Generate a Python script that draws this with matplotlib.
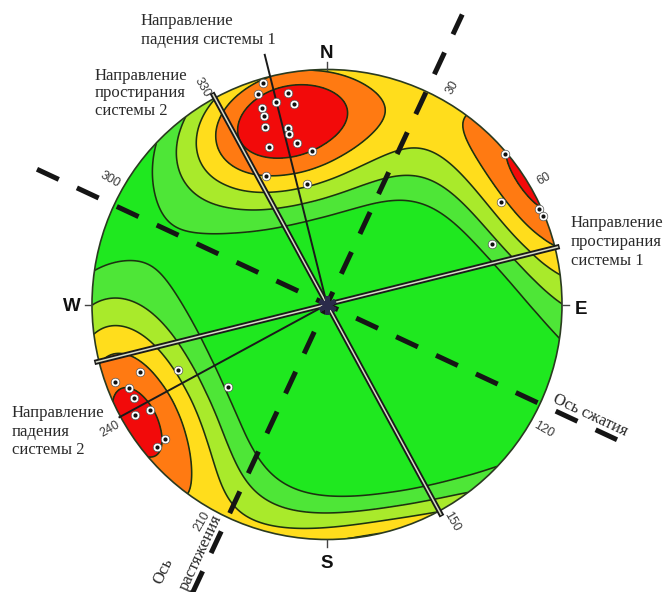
import numpy as np
import matplotlib
matplotlib.use("Agg")
import matplotlib.pyplot as plt
from matplotlib.patches import Circle
from matplotlib.colors import ListedColormap, BoundaryNorm

plt.rcParams["lines.scale_dashes"] = False

# Poles to fractures (trend, plunge in degrees), lower hemisphere
pole_trend = [343.8, 341.9, 349.6, 345.9, 350.6, 341.7, 341.6, 340.8, 347.6, 347.4,
              349.6, 339.8, 354.5, 334.6, 350.5,
              49.7, 59.6, 65.8, 67.8, 69.8,
              250.2, 250.0, 247.1, 244.1, 239.2, 240.1, 230.2, 230.1, 246.2, 230.2]
pole_plunge = [2.2, 6.4, 9.5, 12.0, 14.5, 13.1, 16.5, 21.1, 24.3, 26.6,
               30.7, 29.3, 34.7, 39.3, 46.7,
               1.0, 15.1, 1.0, 1.0, 26.3,
               16.5, 4.5, 9.3, 9.4, 13.4, 6.3, 11.3, 6.3, 31.5, 44.5]

# Density contour levels (fraction of maximum) and band colours
levels = [0.0, 0.51, 0.62, 0.72, 0.815, 0.905, 1.01]
band_colors = ["#1FE81F", "#4EE637", "#A9EA2B", "#FFDD1C", "#FF7A12", "#F20A0A"]
kappa = 4.0

# Structural directions (trend, degrees)
strike_1, dip_dir_1 = 76.0, 346.0
strike_2, dip_dir_2 = 331.5, 241.5
compression_axis = 115.0
extension_axis = 25.0

ring_ticks = [30, 60, 120, 150, 210, 240, 300, 330]
cardinals = {"N": 0, "E": 90, "S": 180, "W": 270}


def direction_cosines(trend, plunge):
    t = np.radians(np.asarray(trend))
    p = np.radians(np.asarray(plunge))
    return np.array([np.cos(p) * np.sin(t), np.cos(p) * np.cos(t), -np.sin(p)])


def equal_area(trend, plunge):
    t = np.radians(np.asarray(trend))
    p = np.radians(np.asarray(plunge))
    r = np.sqrt(2) * np.sin((np.pi / 2 - p) / 2)
    return r * np.sin(t), r * np.cos(t)


def polar(trend, r):
    t = np.radians(trend)
    return r * np.sin(t), r * np.cos(t)


# Density on the lower hemisphere (axial Fisher kernel)
n = 420
g = np.linspace(-1.03, 1.03, n)
X, Y = np.meshgrid(g, g)
R = np.clip(np.hypot(X, Y), 0, 1)
colat = 2 * np.arcsin(R / np.sqrt(2))
az = np.arctan2(X, Y)
G = np.stack([np.sin(colat) * np.sin(az), np.sin(colat) * np.cos(az), -np.cos(colat)], -1)
P = direction_cosines(pole_trend, pole_plunge)
dens = np.exp(kappa * (np.abs(G @ P) - 1)).sum(-1)
dens = dens / dens[np.hypot(X, Y) <= 1].max()

W, H = 668, 592
cx, cy, rad = 327.0, 304.5, 235.0
fig = plt.figure(figsize=(W / 100, H / 100), dpi=100)
ax = fig.add_axes([0, 0, 1, 1])
ax.set_xlim(-cx / rad, (W - cx) / rad)
ax.set_ylim((cy - H) / rad, cy / rad)
ax.set_aspect("equal")
ax.axis("off")


def px2d(x, y):
    return (x - cx) / rad, (cy - y) / rad


clip = Circle((0, 0), 1.0, transform=ax.transData)
cmap = ListedColormap(band_colors)
norm = BoundaryNorm(levels, cmap.N)
cf = ax.contourf(X, Y, dens, levels=levels, cmap=cmap, norm=norm, zorder=1)
cf.set_clip_path(clip)
cl = ax.contour(X, Y, dens, levels=levels[1:-1], colors="#1b3210", linewidths=1.15, zorder=2)
cl.set_clip_path(clip)
ax.add_patch(Circle((0, 0), 1.0, fill=False, ec="#2a3a20", lw=1.2, zorder=3))

# Cardinal ticks and labels
card_pos = {"N": (326.7, 58), "E": (581, 313.5), "S": (326.7, 568), "W": (72, 310.5)}
for name, t in cardinals.items():
    x0, y0 = polar(t, 1.0)
    x1, y1 = polar(t, 1.03)
    ax.plot([x0, x1], [y0, y1], color="#444444", lw=1.0, zorder=3)
    ax.text(*px2d(*card_pos[name]), name, fontsize=13.5, fontweight="bold",
            family="Liberation Sans", ha="center", va="baseline", color="#111111", zorder=6)

# Degree labels, oriented along the radius
for t in ring_ticks:
    xl, yl = polar(t, 1.065)
    rot = 90 - t
    rot = (rot + 90) % 180 - 90
    ax.text(xl, yl, str(t), fontsize=9, family="Liberation Sans", color="#3a3a3a",
            rotation=rot, rotation_mode="anchor", ha="center", va="center", zorder=6)

# Dashed principal stress axes
for t in (compression_axis, extension_axis):
    xa, ya = polar(t, 320 / rad)
    ax.plot([-xa, xa], [-ya, ya], color="#151515", lw=3.6, dashes=(17.3, 14.4),
            dash_capstyle="butt", zorder=4)


def double_line(t, r):
    xa, ya = polar(t, r)
    ax.plot([-xa, xa], [-ya, ya], color="#1a1a1a", lw=3.8, solid_capstyle="butt", zorder=5)
    xb, yb = polar(t, r - 0.006)
    ax.plot([-xb, xb], [-yb, yb], color="#d9dcc8", lw=1.1, solid_capstyle="butt", zorder=5)


double_line(strike_1, 1.02)
double_line(strike_2, 1.025)

for t, r in ((dip_dir_1, 1.095), (dip_dir_2, 1.005)):
    xa, ya = polar(t, r)
    ax.plot([0, xa], [0, ya], color="#1a1a1a", lw=1.4, zorder=5)

# Poles
px, py = equal_area(pole_trend, pole_plunge)
ax.plot(px, py, "o", ms=6.2, mfc="white", mec="#555555", mew=0.5, ls="none", zorder=7)
ax.plot(px, py, "o", ms=3.0, mfc="#111111", mec="none", ls="none", zorder=8)

# Centre
ax.plot([0], [0], marker=(6, 2, 0), ms=13, mew=3.2, color="#2b2b4a", zorder=9)

serif = "Liberation Serif"
tcol = "#2a2a2a"

ax.text(*px2d(141, 13), "Направление\nпадения системы 1", family=serif, fontsize=12,
        color=tcol, ha="left", va="top", linespacing=1.25, zorder=6)
ax.text(*px2d(95, 68), "Направление\nпростирания\nсистемы 2", family=serif, fontsize=12,
        color=tcol, ha="left", va="top", linespacing=1.12, zorder=6)
ax.text(*px2d(571, 215), "Направление\nпростирания\nсистемы 1", family=serif, fontsize=12,
        color=tcol, ha="left", va="top", linespacing=1.25, zorder=6)
ax.text(*px2d(12, 405), "Направление\nпадения\nсистемы 2", family=serif, fontsize=12,
        color=tcol, ha="left", va="top", linespacing=1.22, zorder=6)
ax.text(*px2d(590, 415), "Ось сжатия", family=serif, fontsize=12, color=tcol,
        rotation=90 - compression_axis, rotation_mode="anchor", ha="center", va="center", zorder=6)
ax.text(*px2d(163.5, 571.5), "Ось", family=serif, fontsize=12, color=tcol,
        rotation=90 - extension_axis, rotation_mode="anchor", ha="center", va="center", zorder=6)
ax.text(*px2d(201, 553), "растяжения", family=serif, fontsize=12, color=tcol,
        rotation=90 - extension_axis, rotation_mode="anchor", ha="center", va="center", zorder=6)

fig.savefig("out.png", dpi=100, facecolor="white")
